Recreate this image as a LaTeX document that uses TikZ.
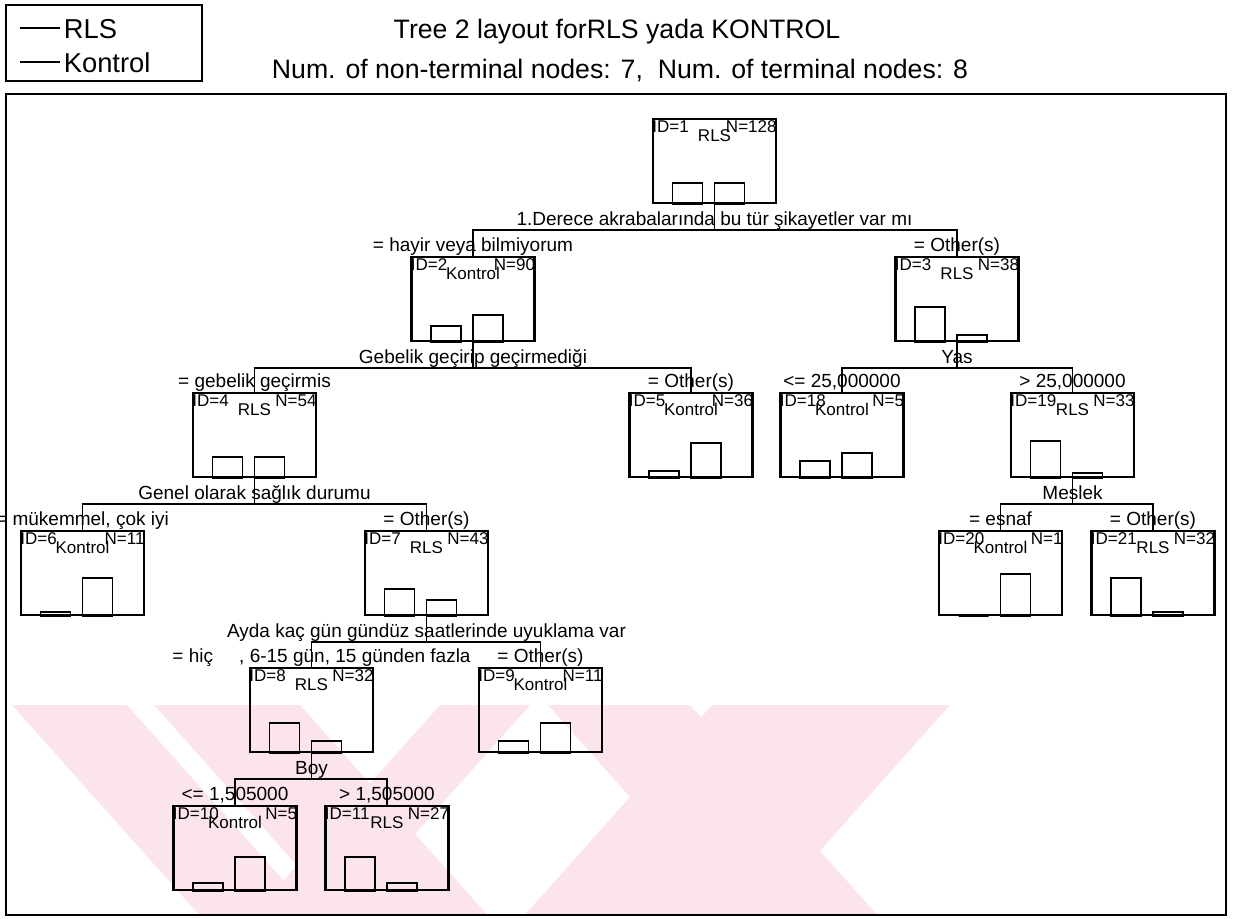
\documentclass[tikz,border=0pt]{standalone}
\usepackage{fontspec}
\setmainfont{Liberation Sans}
\usetikzlibrary{positioning}

\definecolor{markpink}{RGB}{252,229,234}

% two class bars at the foot of a tree box: RLS left, Kontrol right
\newcommand\classbars[3]{%
  \draw[bar] ([xshift=-31.5pt]#1.south) rectangle ++(30,-#2);
  \draw[bar] (#1.south) rectangle ++(30,-#3);}
% ID, N and predicted class inside a tree box
\newcommand\boxtexts[4]{%
  \node[idtext, anchor=base west] (#1-id) at ([xshift=0.3pt,yshift=-11.25pt]#1.north west) {ID=#2};
  \node[idtext, anchor=base east] (#1-n) at ([xshift=-0.3pt,yshift=-11.25pt]#1.north east) {N=#3};
  \node[idtext, anchor=base] (#1-cls) at ([yshift=-18pt]#1.north) {#4};}
% split of a parent box into two children
\newcommand\splitbox[4]{%
  \coordinate (#1-s) at ([yshift=-19.5pt]#1.south);
  \draw[link] (#1.south) -- (#1-s);
  \draw[link] (#2.north) |- (#1-s) -| (#3.north);
  \node[splittext, anchor=base] (#1-q) at ([yshift=3.75pt]#1-s) {#4};}

\begin{document}
\begin{tikzpicture}[
  x=0.75pt, y=-0.75pt,
  treebox/.style={draw, line width=1.8pt, minimum width=92.25pt, minimum height=63pt, inner sep=0pt},
  link/.style={line width=1.3pt},
  bar/.style={line width=1.1pt},
  frame/.style={line width=1.3pt},
  idtext/.style={font=\fontsize{12.75}{14}\selectfont, inner sep=0pt},
  splittext/.style={font=\fontsize{14.25}{16}\selectfont, inner sep=0pt},
  branch/.style={font=\fontsize{14.25}{16}\selectfont, inner sep=0pt, anchor=base},
  titletext/.style={font=\fontsize{20}{24}\selectfont, inner sep=0pt, anchor=base},
  legendtext/.style={font=\fontsize{20.5}{24}\selectfont, inner sep=0pt, anchor=west}
]
\useasboundingbox (0,0) rectangle (1234,918);

% watermark
\begin{scope}
\clip (6,94) rectangle (1226,915);
\fill[markpink] (12,705) -- (127,705) -- (317,918) -- (202,918) -- cycle;
\fill[markpink] (154,705) -- (300,705) -- (490,918) -- (344,918) -- cycle;
\fill[markpink] (440,705) -- (530,705) -- (340,918) -- (250,918) -- cycle;
\fill[markpink] (548,705) -- (690,705) -- (880,918) -- (738,918) -- cycle;
\fill[markpink] (712,705) -- (950,705) -- (760,918) -- (522,918) -- cycle;
\end{scope}

% legend and titles
\node[draw, line width=1.2pt, minimum width=147pt, minimum height=57pt] (legend) at (104,43) {};
\draw[link] (20,28) -- (60,28) node[legendtext] (leg-rls) at (63,29) {RLS};
\draw[link] (20,62) -- (60,62) node[legendtext] (leg-kon) at (63,63) {Kontrol};
\node[titletext] (title1) at (617,38) {Tree 2 layout forRLS yada KONTROL};
\node[titletext] (title2) at (620,78) {Num. of non-terminal nodes: 7,\ \ Num. of terminal nodes: 8};
\draw[frame] (6,94) rectangle (1226,915);

% tree boxes
\node[treebox] (n1) at (714.5,161) {};
\node[treebox] (n2) at (473,299) {};
\node[treebox] (n3) at (957,299) {};
\node[treebox] (n4) at (254.5,435) {};
\node[treebox] (n5) at (691,435) {};
\node[treebox] (n18) at (842,435) {};
\node[treebox] (n19) at (1072.5,435) {};
\node[treebox] (n6) at (82.5,573) {};
\node[treebox] (n7) at (426.5,573) {};
\node[treebox] (n20) at (1000.5,573) {};
\node[treebox] (n21) at (1153,573) {};
\node[treebox] (n8) at (311.5,710) {};
\node[treebox] (n9) at (540.5,710) {};
\node[treebox] (n10) at (235,848) {};
\node[treebox] (n11) at (387,848) {};

\boxtexts{n1}{1}{128}{RLS}      \classbars{n1}{21}{21}
\boxtexts{n2}{2}{90}{Kontrol}   \classbars{n2}{16}{27}
\boxtexts{n3}{3}{38}{RLS}       \classbars{n3}{35}{7}
\boxtexts{n4}{4}{54}{RLS}       \classbars{n4}{21}{21}
\boxtexts{n5}{5}{36}{Kontrol}   \classbars{n5}{7}{35}
\boxtexts{n18}{18}{5}{Kontrol}  \classbars{n18}{17}{25}
\boxtexts{n19}{19}{33}{RLS}     \classbars{n19}{37}{5}
\boxtexts{n6}{6}{11}{Kontrol}   \classbars{n6}{4}{38}
\boxtexts{n7}{7}{43}{RLS}       \classbars{n7}{27}{16}
\boxtexts{n20}{20}{1}{Kontrol}  \classbars{n20}{0}{42}
\boxtexts{n21}{21}{32}{RLS}     \classbars{n21}{38}{4}
\boxtexts{n8}{8}{32}{RLS}       \classbars{n8}{30}{12}
\boxtexts{n9}{9}{11}{Kontrol}   \classbars{n9}{12}{30}
\boxtexts{n10}{10}{5}{Kontrol}  \classbars{n10}{8}{34}
\boxtexts{n11}{11}{27}{RLS}     \classbars{n11}{34}{8}

% splits
\splitbox{n1}{n2}{n3}{1.Derece akrabalarında bu tür şikayetler var mı}
\splitbox{n2}{n4}{n5}{Gebelik geçirip geçirmediği}
\splitbox{n3}{n18}{n19}{Yas}
\splitbox{n4}{n6}{n7}{Genel olarak sağlık durumu}
\splitbox{n19}{n20}{n21}{Meslek}
\splitbox{n7}{n8}{n9}{Ayda kaç gün gündüz saatlerinde uyuklama var}
\splitbox{n8}{n10}{n11}{Boy}

% branch labels
\node[branch] (n2-b) at ([yshift=3pt]n2.north) {= hayir veya bilmiyorum};
\node[branch] (n3-b) at ([yshift=3pt]n3.north) {= Other(s)};
\node[branch] (n4-b) at ([yshift=3pt]n4.north) {= gebelik geçirmis};
\node[branch] (n5-b) at ([yshift=3pt]n5.north) {= Other(s)};
\node[branch] (n18-b) at ([yshift=3pt]n18.north) {<= 25,000000};
\node[branch] (n19-b) at ([yshift=3pt]n19.north) {> 25,000000};
\node[branch] (n6-b) at ([yshift=3pt]n6.north) {= mükemmel, çok iyi};
\node[branch] (n7-b) at ([yshift=3pt]n7.north) {= Other(s)};
\node[branch] (n20-b) at ([yshift=3pt]n20.north) {= esnaf};
\node[branch] (n21-b) at ([yshift=3pt]n21.north) {= Other(s)};
\node[branch] (n8-b) at ([xshift=7.5pt,yshift=3pt]n8.north) {= hiç\hspace{1.1em} , 6-15 gün, 15 günden fazla};
\node[branch] (n9-b) at ([yshift=3pt]n9.north) {= Other(s)};
\node[branch] (n10-b) at ([yshift=3pt]n10.north) {<= 1,505000};
\node[branch] (n11-b) at ([yshift=3pt]n11.north) {> 1,505000};
\end{tikzpicture}
\end{document}
